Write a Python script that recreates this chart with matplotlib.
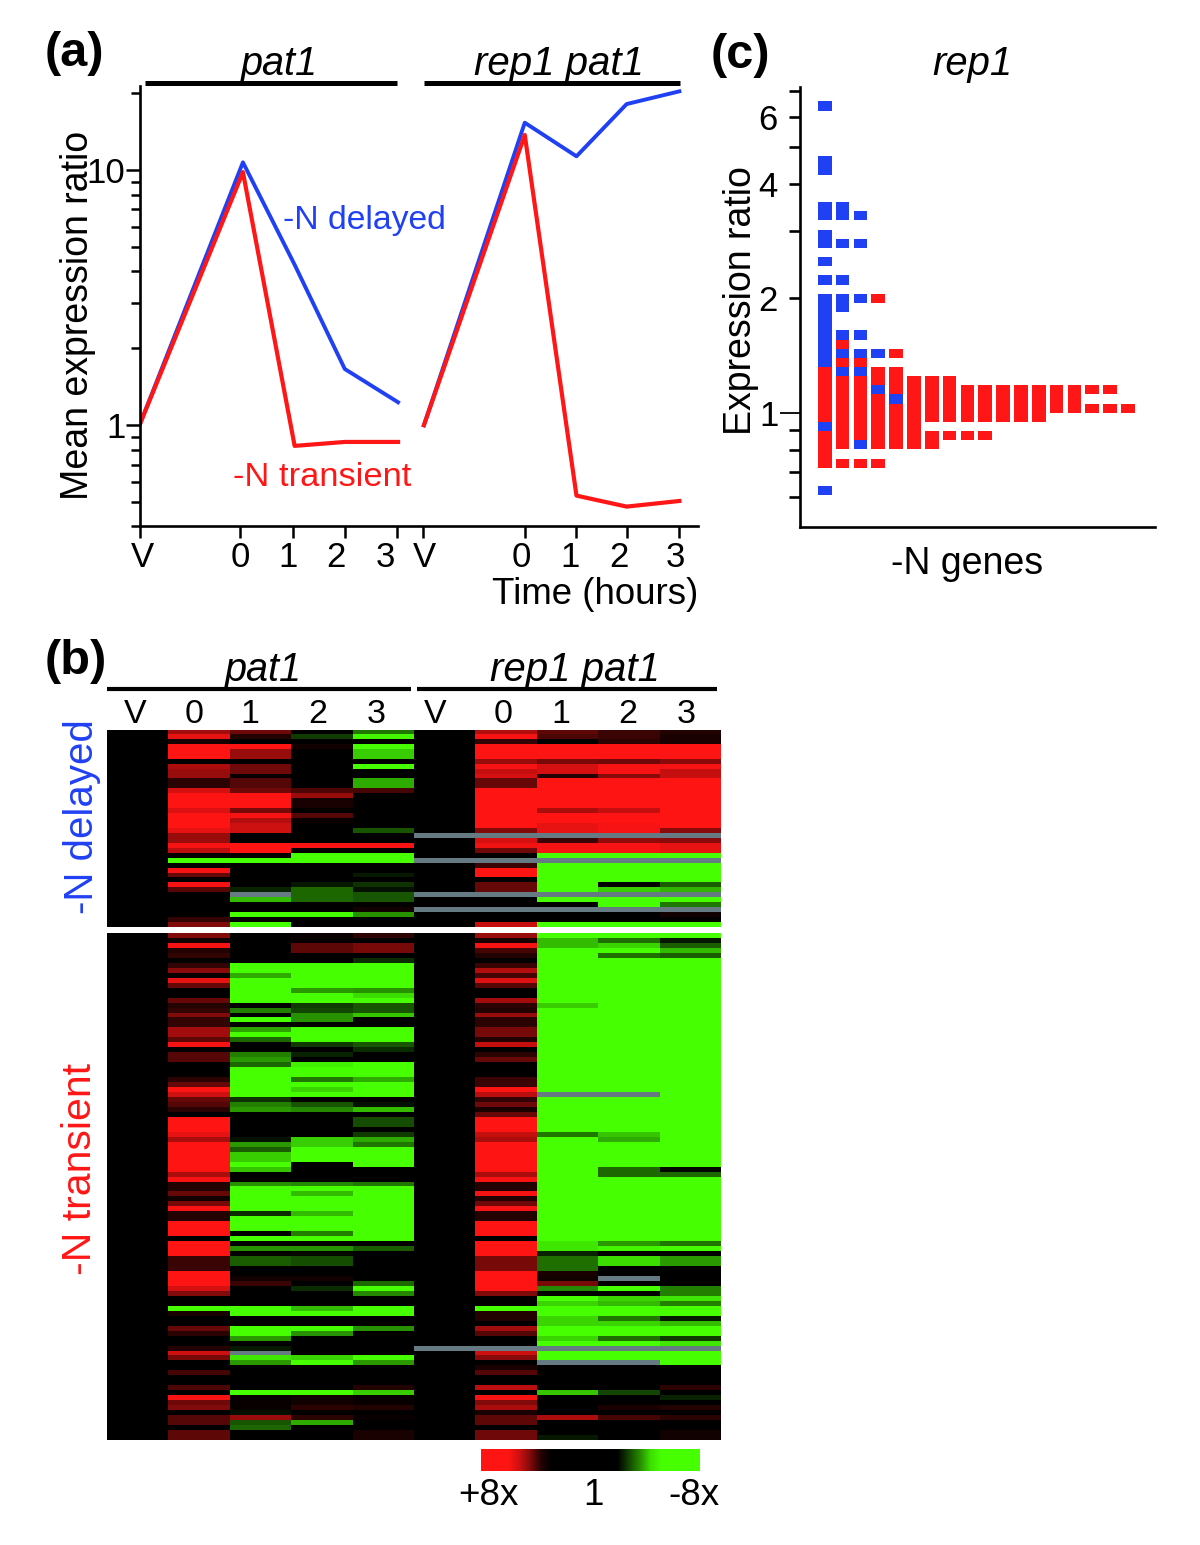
#!/usr/bin/env python3
# -*- coding: utf-8 -*-
"""Mean expression curves, heatmap and -N gene histogram (panels a, b, c)"""

import numpy as np
import matplotlib
matplotlib.use('Agg')
import matplotlib.pyplot as plt
from matplotlib.colors import LinearSegmentedColormap
from matplotlib.lines import Line2D

plt.rcParams['font.family'] = ['Liberation Sans', 'DejaVu Sans']

W, H = 1200, 1545
BLUE = '#2040f4'
RED = '#ff1616'
nan = float('nan')

# === panel (a) ===
TIME_PAT1 = [0, 2.0, 3.0, 3.97, 5.0]
TIME_REP = [5.5, 7.45, 8.45, 9.42, 10.44]
DELAYED_PAT1 = [1, 10.7, 4.25, 1.66, 1.23]
TRANSIENT_PAT1 = [1, 9.8, 0.83, 0.86, 0.86]
DELAYED_REP = [1, 15.3, 11.3, 18.1, 20.3]
TRANSIENT_REP = [1, 13.7, 0.53, 0.48, 0.505]
TICK_TIMES = [0, 1.94, 2.96, 3.97, 4.97, 5.49, 7.45, 8.45, 9.42, 10.44]
TICK_NAMES = ['V', '0', '1', '2', '3', 'V', '0', '1', '2', '3']
YMINOR_A = [0.403, 0.5, 0.6, 0.7, 0.8, 0.9, 2, 3, 4, 5, 6, 7, 8, 9, 20]

# === panel (b): (first row, value) runs, value is log2 ratio, nan = no data ===
P1_0_TOP = [(0, 1.9), (1, 2.7), (2, .3), (3, 3), (6, 0), (7, 2), (8, 1.8), (10, .5), (12, 2.5), (13, 3), (16, 2.6),
            (17, 3), (20, 2.7), (21, 1.8), (23, 2.9), (24, 2.2), (25, 0), (26, -3), (27, 0), (28, 2.9), (29, 1.2),
            (30, 0), (31, 2.9), (32, 1), (33, 0), (38, .6), (39, 1.5)]
P1_1_TOP = [(0, 1.3), (1, .4), (2, 0), (3, 3), (4, 1.8), (6, 0), (7, 1.3), (9, .1), (10, 1), (12, 1.3), (13, 3),
            (16, 1.4), (17, 2.9), (18, 2.1), (19, 2.4), (21, 0), (23, 3), (25, 0), (26, -3), (27, 0), (32, -.4),
            (33, nan), (34, -2.2), (35, 0), (37, -3), (38, 0), (39, -3)]
P1_2_TOP = [(0, 0), (1, -.7), (2, 0), (3, .2), (4, 0), (12, .9), (13, 1.8), (14, .3), (16, 0), (17, 1), (18, .1),
            (19, 0), (23, 2.9), (24, 0), (25, -3), (27, 0), (31, -.3), (32, -1.2), (35, 0), (37, -3), (38, 0)]
P1_3_TOP = [(0, -1.4), (1, -2.9), (2, 0), (3, -3), (4, -2.4), (6, 0), (7, -3), (8, 0), (10, -2), (12, .8), (13, 0),
            (20, -1), (21, 0), (23, 2.9), (24, 0), (25, -3), (27, 0), (29, -.3), (30, 0), (31, -.6), (32, -.2),
            (33, -1), (35, 0), (36, .2), (37, -1.7), (38, 0)]
RP_V_TOP = [(0, 0), (21, nan), (22, 0), (26, nan), (27, 0), (33, nan), (34, 0), (36, nan), (37, 0)]
RP_0_TOP = [(0, 2.1), (1, 2.9), (2, .6), (3, 3), (6, 1.8), (7, 2.9), (8, 2.3), (9, 2.5), (10, 1.2), (12, 3),
            (20, 1.5), (21, nan), (22, 2.5), (23, 2.8), (24, 1.3), (25, 0), (26, nan), (27, .7), (28, 3), (30, 0),
            (31, 1.2), (33, nan), (34, 0), (36, nan), (37, 0), (39, 2.3)]
RP_1_TOP = [(0, 1.1), (1, .9), (2, 0), (3, 3), (6, 1.4), (7, 2.5), (9, .4), (10, 3), (16, 2), (17, 3), (19, 2.7),
            (21, nan), (22, .7), (23, 2.9), (25, -3), (26, nan), (27, -3), (33, nan), (34, -3), (35, 0), (36, nan),
            (37, 0), (39, -3)]
RP_2_TOP = [(0, .7), (2, .5), (3, 3), (6, 1.3), (7, 2.9), (9, 1.6), (10, 3), (16, 2.3), (17, 3), (19, 2.9),
            (21, nan), (22, 1.7), (23, 2.9), (25, -3), (26, nan), (27, -3), (31, 0), (32, -2.4), (33, nan), (34, -3),
            (36, nan), (37, 0), (39, -3)]
RP_3_TOP = [(0, .4), (1, .3), (3, 3), (6, 1.6), (7, 2.9), (8, 2.3), (10, 3), (20, 1.6), (21, nan), (22, 1.6),
            (23, 2.7), (25, -3), (26, nan), (27, -3), (31, -1.1), (32, -2.1), (33, nan), (34, -3), (35, -1.4),
            (36, nan), (37, .2), (38, 0), (39, -3)]

P1_0_BOT = [(0, 1.5), (1, .2), (2, 2.9), (3, .4), (4, .6), (5, 0), (6, .6), (7, 1.6), (8, .1), (9, 2.7), (10, 1.2),
            (11, 0), (13, 1.2), (14, .4), (15, .6), (16, 1.5), (17, .6), (19, 1.9), (21, 1.1), (22, 2.9), (23, 0),
            (24, 1), (26, 0), (29, .5), (30, 1.2), (31, 3), (32, 2.4), (33, 1.2), (34, 1), (35, .5), (36, 0), (37, 3),
            (40, 2.7), (41, 2), (42, 3), (48, 2), (49, 2.9), (50, .4), (52, 1.2), (53, .2), (54, 1.4), (55, 2.9),
            (56, .4), (58, 3), (61, 0), (62, 3), (65, .7), (68, 3), (71, 2.5), (72, 1.5), (73, 0), (75, -3), (76, .3),
            (77, 0), (79, 1.2), (80, .5), (81, 0), (83, .4), (84, 2.4), (85, 1.4), (86, 0), (88, .8), (89, 0),
            (91, .9), (92, 0), (93, 2.9), (94, 1.3), (95, 1.5), (96, 0), (97, 1), (99, 0), (100, 1.1)]
P1_1_BOT = [(0, 0), (6, -3), (8, -2), (9, -3), (14, 0), (15, -1.5), (16, 0), (17, -3), (18, 0), (19, -1.9), (20, -3),
            (21, -1.2), (22, 0), (24, -1.5), (25, -1.8), (26, -1.2), (27, -3), (33, -.6), (34, -1.5), (35, -1.8),
            (36, 0), (41, -.2), (42, -1.8), (43, -1.1), (44, -2.4), (46, -3), (47, -2.3), (48, 0), (50, -1.7),
            (51, -3), (56, -.5), (57, -3), (60, 0), (61, -3), (62, 0), (63, -1.7), (64, 0), (65, -1.1), (67, 0),
            (69, .2), (70, .7), (71, 0), (75, -3), (77, 0), (79, -3), (81, -1.8), (82, 0), (83, -.3), (84, nan),
            (85, -2.7), (86, -1.8), (87, 0), (92, -3), (93, .1), (96, -.2), (97, 1.8), (98, -1), (99, -1.2), (100, 0)]
P1_2_BOT = [(0, .1), (2, 1.1), (4, 0), (6, -3), (11, -1.8), (12, -3), (14, -.7), (15, -.8), (16, -1.7), (18, 0),
            (19, -3), (22, -.7), (23, 0), (24, -.4), (25, 0), (26, -2.8), (27, -3), (29, -1.4), (30, -3), (31, -2.5),
            (32, -3), (33, 0), (34, -1), (35, -1.6), (36, 0), (41, -2.4), (43, -3), (46, 0), (50, -1.6), (51, -3),
            (52, -2.2), (53, -3), (56, -2.2), (57, -3), (60, -1.5), (61, -3), (62, 0), (63, -1.7), (64, -.1),
            (65, -.9), (67, 0), (69, .2), (70, 0), (71, -.5), (72, 0), (75, -2.2), (76, -3), (77, 0), (79, -3),
            (80, -1.7), (81, 0), (85, -2.5), (86, -3), (87, 0), (92, -3), (93, .2), (95, .5), (96, 0), (97, .5),
            (98, -2), (99, 0)]
P1_3_BOT = [(0, .5), (1, 0), (2, 1.4), (4, 0), (5, -.5), (6, -3), (11, -1.7), (12, -2.6), (13, -3), (14, -1),
            (16, -2.3), (17, 0), (19, -3), (22, -1), (23, -.5), (24, 0), (26, -3), (29, -2), (30, -3), (33, 0),
            (34, -.2), (35, -2.2), (36, 0), (37, -.9), (39, 0), (40, -.7), (41, -2), (42, -1.4), (43, -3), (47, 0),
            (50, -1.4), (51, -3), (62, 0), (63, -1.1), (64, 0), (70, -1.2), (71, -3), (72, -1.6), (73, 0), (75, -3),
            (77, 0), (79, -1.7), (80, 0), (85, -3), (86, -1.8), (87, 0), (91, .4), (92, -2.4), (93, .1), (95, .4),
            (96, 0), (97, .1), (98, 0), (100, .3)]
RP_V_BOT = [(0, 0), (83, nan), (84, 0)]
RP_0_BOT = [(0, 1.8), (1, .3), (2, 2.9), (3, .8), (4, .4), (5, 0), (6, .7), (7, 2.1), (8, .8), (9, 2.6), (10, 1),
            (11, 0), (13, 1.9), (14, .5), (15, .4), (16, 1.8), (17, .5), (19, 1.4), (21, .4), (22, 2.3), (23, 0),
            (24, .5), (25, 1.2), (26, 0), (29, .7), (31, 3), (32, 2.2), (33, .6), (34, 1.3), (35, .3), (36, 1.2),
            (37, 3), (40, 2.3), (41, 2), (42, 3), (48, 2), (49, 2.9), (50, .4), (52, 2.9), (53, .4), (54, 1.3),
            (55, 2.9), (56, .4), (58, 3), (61, 0), (62, 3), (65, 1.4), (68, 3), (72, 1.5), (73, 0), (75, -3),
            (76, .4), (78, 0), (79, 1.9), (80, 1), (81, 0), (83, nan), (84, 2.4), (85, 1.6), (86, 0), (87, .3),
            (88, 1), (89, 0), (91, 2.2), (92, 0), (93, 2.9), (94, 1.5), (95, 2), (96, .3), (97, 1.1), (99, 0),
            (100, 1.3)]
RP_1_BOT = [(0, -3), (1, -2.2), (3, -3), (14, -2.4), (15, -3), (32, nan), (33, -3), (40, -1.4), (41, -3), (62, -2.7),
            (64, -.4), (65, -1.3), (68, .3), (69, .2), (70, 1.4), (71, -1.6), (72, 0), (73, -3), (74, -2.5), (75, -3),
            (77, -2.5), (79, -3), (81, -2.5), (82, -3), (83, nan), (84, -3), (86, nan), (87, 0), (92, -2.3), (93, 0),
            (97, 2), (98, 0), (101, -.3)]
RP_2_BOT = [(0, -3), (1, -1.3), (2, -2.5), (3, -3), (4, -1.3), (5, -3), (32, nan), (33, -3), (40, -2.3), (41, -2),
            (42, -3), (47, -1.2), (49, -3), (62, -1.8), (63, -2.9), (64, 0), (65, -2.6), (67, 0), (69, nan), (70, 0),
            (71, -3), (72, 0), (73, -2.5), (74, -2.2), (75, -3), (77, -1.4), (78, -2.5), (79, -3), (81, -1.3),
            (82, -3), (83, nan), (84, -3), (86, nan), (87, 0), (92, -.8), (93, 0), (95, .3), (96, 0), (97, .8), (98, 0)]
RP_3_BOT = [(0, -3), (1, -.3), (2, -1.1), (3, -2.2), (4, -1.1), (5, -3), (47, -.1), (48, -1.2), (49, -3), (62, -1.4),
            (63, -3), (64, 0), (65, -1.8), (67, 0), (71, -1.5), (73, -2.7), (74, -1.5), (75, -3), (77, -.3),
            (78, -2.2), (79, -3), (81, -.7), (82, -2.7), (83, nan), (84, -3), (87, 0), (91, .5), (92, 0), (93, -.4),
            (94, 0), (95, .4), (96, 0), (97, .5), (98, 0), (100, .2)]

HEAT_LABELS = ['V', '0', '1', '2', '3', 'V', '0', '1', '2', '3']
SCALE_VALUES = [3, 3, 3, 2.4, 1.5, 0.4, 0, 0, 0, 0, 0, 0, 0, -0.8, -1.6, -2.6, -3, -3, -3, -3]

# === panel (c): histogram bins (0.08 log2 wide) per gene column ===
BIN_LOG2 = 0.08
C_BLUE = [[33, 27, 26, 22, 21, 19, 18, 16, 14, *range(5, 13), -2, -9],
          [22, 21, 18, 14, 12, 11, 8, 6, 4],
          [21, 18, 12, 8, 6, 4, -4],
          [6, 2],
          [1]]
C_RED = [[*range(-1, 5), *range(-6, -2)],
         [7, 5, *range(-4, 4), -6],
         [5, *range(-3, 4), -6],
         [12, 4, 3, *range(-4, 2), -6],
         [6, 4, 3, 2, 0, -1, -2, -3, -4],
         [*range(-4, 4)],
         [*range(-1, 4), -3, -4],
         [*range(-1, 4), -3],
         [*range(-1, 3), -3],
         [*range(-1, 3), -3],
         [*range(-1, 3)],
         [*range(-1, 3)],
         [*range(-1, 3)],
         [0, 1, 2],
         [0, 1, 2],
         [2, 0],
         [2, 0],
         [0]]


def axes_px(fig, left, top, right, bottom):
    """Оси по пиксельным координатам картинки"""
    return fig.add_axes([left / W, 1 - bottom / H, (right - left) / W, (bottom - top) / H])


def label(fig, x, y, text, **kw):
    kw.setdefault('ha', 'center')
    kw.setdefault('va', 'center')
    fig.text(x / W, 1 - y / H, text, **kw)


def bar(fig, x0, x1, y, lw):
    fig.add_artist(Line2D([x0 / W, x1 / W], [1 - y / H, 1 - y / H], transform=fig.transFigure,
                          color='black', lw=lw, solid_capstyle='butt'))


def expand(runs, n):
    col = np.zeros(n)
    for i, (start, value) in enumerate(runs):
        stop = runs[i + 1][0] if i + 1 < len(runs) else n
        col[start:stop] = value
    return col


def plot_curves(fig):
    ax = axes_px(fig, 139.5, 86, 698, 526)
    ax.plot(TIME_PAT1, DELAYED_PAT1, color=BLUE, lw=2.8)
    ax.plot(TIME_PAT1, TRANSIENT_PAT1, color=RED, lw=3)
    ax.plot(TIME_REP, DELAYED_REP, color=BLUE, lw=2.8)
    ax.plot(TIME_REP, TRANSIENT_REP, color=RED, lw=3)
    ax.set_yscale('log')
    ax.set_ylim(0.403, 21.3)
    ax.set_xlim(0, 10.8)
    ax.set_yticks([1, 10], labels=['1', '10'])
    ax.set_yticks(YMINOR_A, labels=[''] * len(YMINOR_A), minor=True)
    ax.set_xticks(TICK_TIMES, labels=[])
    ax.tick_params(axis='y', which='major', length=10, width=1.8, labelsize=25, pad=0)
    ax.tick_params(axis='y', which='minor', length=6.5, width=1.8)
    ax.tick_params(axis='x', length=8.5, width=1.8)
    for side in ['top', 'right']:
        ax.spines[side].set_visible(False)
    for side in ['left', 'bottom']:
        ax.spines[side].set_linewidth(1.9)

    # подписи оси сдвинуты относительно штрихов, как в оригинале
    for x, name in zip([142, 240, 288, 336, 385, 424, 521, 570, 619, 675], TICK_NAMES):
        label(fig, x, 567, name, fontsize=25, va='baseline')

    label(fig, 78, 315, 'Mean expression ratio', fontsize=27, rotation=90)
    label(fig, 283, 220, '-N delayed', fontsize=24.3, color=BLUE, ha='left')
    label(fig, 233, 477, '-N transient', fontsize=24.8, color=RED, ha='left')
    label(fig, 698, 594, 'Time (hours)', fontsize=26.4, ha='right')
    label(fig, 279, 75, 'pat1', fontsize=28.5, style='italic', va='baseline')
    label(fig, 559, 75, 'rep1 pat1', fontsize=29, style='italic', va='baseline')
    bar(fig, 145, 397, 83, 3.6)
    bar(fig, 424, 680, 83, 3.6)


def plot_heatmap(fig):
    cmap = LinearSegmentedColormap.from_list('gbr', ['#46ff00', '#000000', '#ff1414'])
    cmap.set_bad('#667a84')

    top_runs = [[], P1_0_TOP, P1_1_TOP, P1_2_TOP, P1_3_TOP, RP_V_TOP, RP_0_TOP, RP_1_TOP, RP_2_TOP, RP_3_TOP]
    bot_runs = [[], P1_0_BOT, P1_1_BOT, P1_2_BOT, P1_3_BOT, RP_V_BOT, RP_0_BOT, RP_1_BOT, RP_2_BOT, RP_3_BOT]
    for runs, n, top, bottom in [(top_runs, 40, 730, 927), (bot_runs, 102, 933, 1440)]:
        ax = axes_px(fig, 107, top, 720, bottom)
        data = np.column_stack([expand(r, n) for r in runs])
        ax.imshow(np.ma.masked_invalid(data), cmap=cmap, vmin=-3, vmax=3, aspect='auto', interpolation='nearest')
        ax.axis('off')

    for x, name in zip([135, 194, 250, 318, 376, 435, 503, 561, 628, 686], HEAT_LABELS):
        label(fig, x, 723, name, fontsize=24.5, va='baseline')
    label(fig, 263, 681, 'pat1', fontsize=28.5, style='italic', va='baseline')
    label(fig, 575, 681, 'rep1 pat1', fontsize=29, style='italic', va='baseline')
    bar(fig, 107, 411, 689, 3)
    bar(fig, 417, 717, 689, 3)
    label(fig, 82, 817, '-N delayed', fontsize=29, color=BLUE, rotation=90)
    label(fig, 80, 1169, '-N transient', fontsize=29.5, color=RED, rotation=90)

    cax = axes_px(fig, 481, 1449, 700, 1471)
    cax.imshow([SCALE_VALUES], cmap=cmap, vmin=-3, vmax=3, aspect='auto', interpolation='bilinear')
    cax.axis('off')
    label(fig, 488, 1505, '+8x', fontsize=26.5, va='baseline')
    label(fig, 593, 1505, '1', fontsize=26.5, va='baseline')
    label(fig, 694, 1505, '-8x', fontsize=26.5, va='baseline')


def plot_histogram(fig):
    ax = axes_px(fig, 800, 86.7, 1155, 527.3)
    for bins_by_col, color in [(C_RED, RED), (C_BLUE, BLUE)]:
        for col, bins in enumerate(bins_by_col):
            lows = 2.0 ** (np.array(bins) * BIN_LOG2)
            highs = 2.0 ** ((np.array(bins) + 1) * BIN_LOG2)
            ax.bar([col] * len(bins), highs - lows, bottom=lows, width=0.77, color=color, linewidth=0)
    ax.set_yscale('log')
    ax.set_ylim(0.5, 7.2)
    ax.set_xlim(-1.385, 18.52)
    ax.set_xticks([])
    ax.set_yticks([1], labels=['1'])
    minor = [0.6, 0.7, 0.8, 0.9, 2, 3, 4, 5, 6, 7]
    ax.set_yticks(minor, labels=['', '', '', '', '2', '', '4', '', '6', ''], minor=True)
    ax.tick_params(axis='y', which='major', length=14.5, width=1.3, labelsize=25, pad=1)
    ax.tick_params(axis='y', which='minor', length=8, width=1.9, labelsize=25, pad=8)
    for side in ['top', 'right']:
        ax.spines[side].set_visible(False)
    for side in ['left', 'bottom']:
        ax.spines[side].set_linewidth(1.9)

    label(fig, 741, 301, 'Expression ratio', fontsize=27, rotation=90)
    label(fig, 967, 564, '-N genes', fontsize=27)
    label(fig, 972, 75, 'rep1', fontsize=28.8, style='italic', va='baseline')


def main():
    fig = plt.figure(figsize=(W / 100, H / 100), dpi=100)
    plot_curves(fig)
    plot_heatmap(fig)
    plot_histogram(fig)
    label(fig, 45, 54, '(a)', fontsize=35, fontweight='bold', ha='left')
    label(fig, 45, 661, '(b)', fontsize=35, fontweight='bold', ha='left')
    label(fig, 711, 56, '(c)', fontsize=35, fontweight='bold', ha='left')
    fig.savefig('out.png', dpi=100)


if __name__ == '__main__':
    main()
